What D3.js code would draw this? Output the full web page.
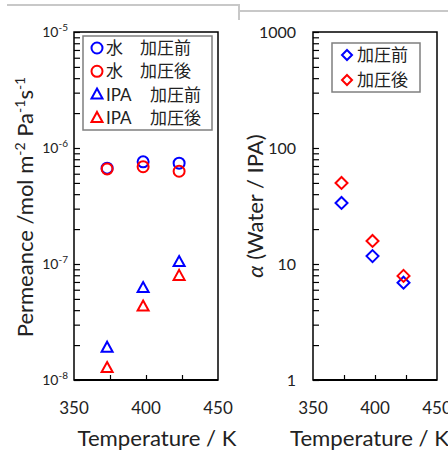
<!DOCTYPE html>
<html><head><meta charset="utf-8">
<script src="https://cdn.jsdelivr.net/npm/d3@7"></script>
<style>body{margin:0;background:#fff} svg{display:block}</style>
</head><body>
<svg id="c" width="448" height="455"></svg>
<script>
// ---- data ----
const temps = [373, 398, 423];
const waterBefore = [6.7e-7, 7.6e-7, 7.4e-7];
const waterAfter  = [6.6e-7, 6.9e-7, 6.3e-7];
const ipaBefore   = [1.9e-8, 6.2e-8, 1.04e-7];
const ipaAfter    = [1.27e-8, 4.3e-8, 7.9e-8];
const alphaBefore = [33.6, 11.7, 6.9];
const alphaAfter  = [50, 15.8, 7.9];
const xTickLabels = [350, 400, 450];
const xMinorTicks = [375, 400, 425];
const permExponents = [-5, -6, -7, -8];
const alphaTickLabels = [1, 10, 100, 1000];
const legendLeft = [
  {a: "水", b: "加圧前", shape: "circle", color: "#0000ff"},
  {a: "水", b: "加圧後", shape: "circle", color: "#ff0000"},
  {a: "IPA", b: "加圧前", shape: "triangle", color: "#0000ff"},
  {a: "IPA", b: "加圧後", shape: "triangle", color: "#ff0000"}
];
const legendRight = [
  {b: "加圧前", color: "#0000ff"},
  {b: "加圧後", color: "#ff0000"}
];

const BLUE = "#0000ff", RED = "#ff0000";
const FONT = "Lato, 'Noto Sans CJK JP', sans-serif";
const svg = d3.select("#c").style("font-family", FONT);

// top gray frame line
svg.append("path").attr("d", "M7,5H239V11H448M239,5V20")
  .attr("fill", "none").attr("stroke", "#c8c8c8").attr("stroke-width", 2);

const triPath = "M0,-6L5.5,4L-5.5,4Z";
const diaPath = (s) => `M0,${-s}L${s},0L0,${s}L${-s},0Z`;

function panel(opt) {
  const {x, y, xl, yl} = opt;
  const g = svg.append("g");
  // minor / major ticks on y (inside)
  const yTicks = y.ticks();
  g.append("g").attr("transform", `translate(${xl[0]},0)`)
    .call(d3.axisRight(y).tickValues(yTicks).tickFormat("")
      .tickSize(6).tickSizeOuter(0))
    .call(s => s.select(".domain").remove())
    .call(s => s.selectAll("line").attr("stroke", "#000").attr("stroke-width", 1.2));
  // bottom ticks (inside)
  g.append("g").attr("transform", `translate(0,${yl[0]})`)
    .call(d3.axisTop(x).tickValues(xMinorTicks).tickFormat("").tickSize(5).tickSizeOuter(0))
    .call(s => s.select(".domain").remove())
    .call(s => s.selectAll("line").attr("stroke", "#000").attr("stroke-width", 1.2));
  // frame
  g.append("rect").attr("x", xl[0]).attr("y", yl[1])
    .attr("width", xl[1] - xl[0]).attr("height", yl[0] - yl[1])
    .attr("fill", "none").attr("stroke", "#000").attr("stroke-width", 1.5);
  g.append("line").attr("x1", xl[0]).attr("x2", xl[1]).attr("y1", yl[0]).attr("y2", yl[0])
    .attr("stroke", "#000").attr("stroke-width", 2.2);
  // x tick labels
  g.selectAll(".xt").data(xTickLabels).join("text")
    .attr("x", d => x(d)).attr("y", 414).attr("text-anchor", "middle")
    .attr("font-size", 17).attr("fill", "#222").text(d => d);
  return g;
}

// ---- left panel ----
const x1 = d3.scaleLinear([350, 450], [74, 218]);
const y1 = d3.scaleLog([1e-8, 1e-5], [380, 32]);
const gL = panel({x: x1, y: y1, xl: [74, 218], yl: [380, 32]});

permExponents.forEach(e => {
  const t = gL.append("text").attr("x", 68).attr("y", y1(Math.pow(10, e)) + 5)
    .attr("text-anchor", "end").attr("font-size", 14).attr("fill", "#222");
  t.append("tspan").text("10");
  t.append("tspan").attr("dy", -6).attr("font-size", 10).text(String(e).replace("-", "-"));
});

function circles(vals, color) {
  gL.selectAll(null).data(temps).join("circle")
    .attr("cx", d => x1(d)).attr("cy", (d, i) => y1(vals[i])).attr("r", 5.5)
    .attr("fill", "none").attr("stroke", color).attr("stroke-width", 2);
}
function tris(vals, color) {
  gL.selectAll(null).data(temps).join("path")
    .attr("d", triPath)
    .attr("transform", (d, i) => `translate(${x1(d)},${y1(vals[i])})`)
    .attr("fill", "none").attr("stroke", color).attr("stroke-width", 2);
}
circles(waterBefore, BLUE);
circles(waterAfter, RED);
tris(ipaBefore, BLUE);
tris(ipaAfter, RED);

// left legend
gL.append("rect").attr("x", 83).attr("y", 36).attr("width", 129).attr("height", 94)
  .attr("fill", "#fff").attr("stroke", "#7f7f7f").attr("stroke-width", 1.5);
legendLeft.forEach((d, i) => {
  const yy = 48 + i * 23.3;
  if (d.shape === "circle") {
    gL.append("circle").attr("cx", 97).attr("cy", yy).attr("r", 5.5)
      .attr("fill", "none").attr("stroke", d.color).attr("stroke-width", 2);
  } else {
    gL.append("path").attr("d", triPath).attr("transform", `translate(97,${yy})`)
      .attr("fill", "none").attr("stroke", d.color).attr("stroke-width", 2);
  }
  gL.append("text").attr("x", 106).attr("y", yy + 6).attr("font-size", 17).attr("fill", "#222").text(d.a);
  gL.append("text").attr("x", d.shape === "circle" ? 140 : 150).attr("y", yy + 6)
    .attr("font-size", 17).attr("fill", "#222").text(d.b);
});

// left axis titles
svg.append("text").attr("x", 157).attr("y", 446).attr("text-anchor", "middle")
  .attr("font-size", 22).attr("fill", "#222").attr("textLength", 159)
  .attr("lengthAdjust", "spacingAndGlyphs").text("Temperature / K");
{
  const t = svg.append("text").attr("transform", "translate(33,207) rotate(-90)")
    .attr("text-anchor", "middle").attr("font-size", 22).attr("fill", "#222");
  t.append("tspan").text("Permeance /mol m");
  t.append("tspan").attr("dy", -8).attr("font-size", 14).text("-2");
  t.append("tspan").attr("dy", 8).text(" Pa");
  t.append("tspan").attr("dy", -8).attr("font-size", 14).text("-1");
  t.append("tspan").attr("dy", 8).text("s");
  t.append("tspan").attr("dy", -8).attr("font-size", 14).text("-1");
}

// ---- right panel ----
const x2 = d3.scaleLinear([350, 450], [313, 437]);
const y2 = d3.scaleLog([1, 1000], [380, 32]);
const gR = panel({x: x2, y: y2, xl: [313, 437], yl: [380, 32]});

gR.selectAll(".yt").data(alphaTickLabels).join("text")
  .attr("x", 296).attr("y", d => y2(d) + 6).attr("text-anchor", "end")
  .attr("font-size", 16).attr("fill", "#222").text(d => d);

function diamonds(vals, color) {
  gR.selectAll(null).data(temps).join("path")
    .attr("d", diaPath(6))
    .attr("transform", (d, i) => `translate(${x2(d)},${y2(vals[i])})`)
    .attr("fill", "none").attr("stroke", color).attr("stroke-width", 2);
}
diamonds(alphaBefore, BLUE);
diamonds(alphaAfter, RED);

gR.append("rect").attr("x", 332).attr("y", 43).attr("width", 88).attr("height", 49)
  .attr("fill", "#fff").attr("stroke", "#7f7f7f").attr("stroke-width", 1.5);
legendRight.forEach((d, i) => {
  const yy = 55 + i * 25;
  gR.append("path").attr("d", diaPath(5)).attr("transform", `translate(347,${yy})`)
    .attr("fill", "none").attr("stroke", d.color).attr("stroke-width", 2);
  gR.append("text").attr("x", 357).attr("y", yy + 6).attr("font-size", 17)
    .attr("fill", "#222").text(d.b);
});

svg.append("text").attr("x", 290).attr("y", 446)
  .attr("font-size", 22).attr("fill", "#222").attr("textLength", 159)
  .attr("lengthAdjust", "spacingAndGlyphs").text("Temperature / K");
{
  const t = svg.append("text").attr("transform", "translate(263,206) rotate(-90)")
    .attr("text-anchor", "middle").attr("font-size", 22).attr("fill", "#222");
  t.append("tspan").attr("font-style", "italic").text("α");
  t.append("tspan").text(" (Water / IPA)");
}
</script>
</body></html>
